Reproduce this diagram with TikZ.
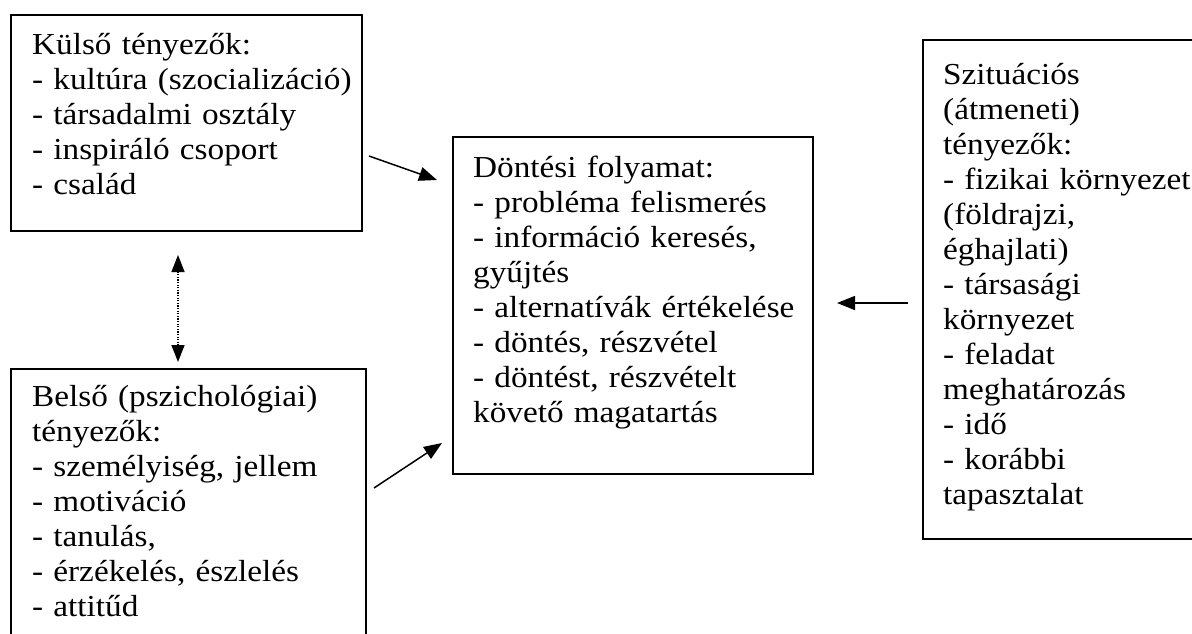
\documentclass[tikz,border=0pt]{standalone}
\usepackage{fontspec}
\setmainfont[FakeStretch=1.09]{Liberation Serif}
\usetikzlibrary{arrows.meta}
\tikzset{
  box/.style={draw, line width=1.7pt, inner sep=0pt, anchor=north west},
  txt/.style={inner sep=0pt, anchor=base west, text width=420pt, align=left,
    font={\fontsize{30.5}{35}\selectfont}},
  conn/.style={line width=1.5pt, -{Triangle[length=18pt,width=14pt]}},
  dots/.style={line width=1.5pt, dash pattern=on 1.2pt off 1.4pt,
    {Triangle[length=17pt,width=13pt]}-{Triangle[length=17pt,width=13pt]}}
}
\begin{document}
\begin{tikzpicture}[x=1pt,y=-1pt]
\useasboundingbox (0,0) rectangle (1192,633);
\clip (0,0) rectangle (1192,633);
\fill[white] (0,0) rectangle (1192,633);

% boxes
\node[box, minimum width=351pt, minimum height=216pt] (ext) at (10,14) {};
\node[box, minimum width=355pt, minimum height=290pt] (int) at (10,368) {};
\node[box, minimum width=360pt, minimum height=337pt] (dec) at (452,136) {};
\node[box, minimum width=290pt, minimum height=499pt] (sit) at (922,39) {};

% texts
\node[txt] (extT) at (32,54) {Külső tényezők:\\- kultúra (szocializáció)\\- társadalmi osztály\\- inspiráló csoport\\- család};
\node[txt] (intT) at (32,406) {Belső (pszichológiai)\\tényezők:\\- személyiség, jellem\\- motiváció\\- tanulás,\\- érzékelés, észlelés\\- attitűd};
\node[txt] (decT) at (473,177) {Döntési folyamat:\\- probléma felismerés\\- információ keresés,\\gyűjtés\\- alternatívák értékelése\\- döntés, részvétel\\- döntést, részvételt\\követő magatartás};
\node[txt, text width=265pt] (sitT) at (943,84) {Szituációs\\(átmeneti)\\tényezők:\\- fizikai környezet\\(földrajzi,\\éghajlati)\\- társasági\\környezet\\- feladat\\meghatározás\\- idő\\- korábbi\\tapasztalat};

% connector end points
\coordinate (a1s) at (369,156);
\coordinate (a1e) at (437,180);
\coordinate (a2s) at (374,488);
\coordinate (a2e) at (442,443);
\coordinate (a3s) at (908,303);
\coordinate (a3e) at (837,303);
\coordinate (dTop) at (178,255);
\coordinate (dBot) at (178,362);

\draw[conn] (a1s) -- (a1e);
\draw[conn] (a2s) -- (a2e);
\draw[conn] (a3s) -- (a3e);
\draw[dots] (dTop) -- (dBot);
\end{tikzpicture}
\end{document}
